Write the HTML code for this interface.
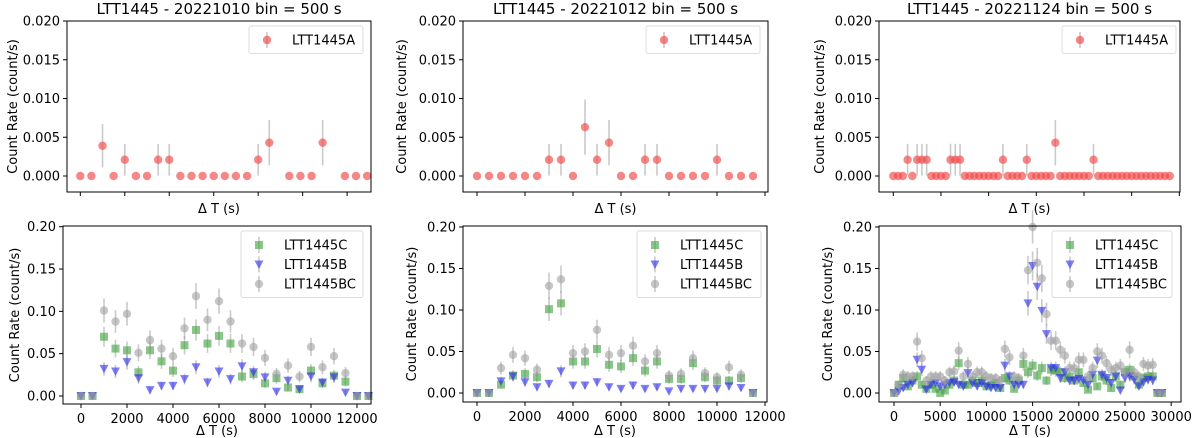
<!DOCTYPE html>
<html><head><meta charset="utf-8">
<style>
html,body{margin:0;padding:0;background:#fff;}
svg{display:block;font-family:"DejaVu Sans","Liberation Sans",sans-serif;}
</style></head>
<body>
<svg id="fig" width="1200" height="438" viewBox="0 0 1200 438" xmlns="http://www.w3.org/2000/svg"></svg>
<script>
// ---------- data ----------
const a1X = [0,500,1000,1500,2000,2500,3000,3500,4000,4500,5000,5500,6000,6500,7000,7500,8000,8500,9400,9900,10400,10900,11900,12400,12900];
const a1Y = [0,0,0.0039,0,0.0021,0,0,0.0021,0.0021,0,0,0,0,0,0,0,0.0021,0.0043,0,0,0,0.0043,0,0,0];
const a2Y = [0,0,0,0,0,0,0.0021,0.0021,0,0.0063,0.0021,0.0043,0,0,0.0021,0.0021,0,0,0,0,0.0021,0,0,0];
const a3Y = [0,0,0,0.0021,0,0.0021,0.0021,0.0021,0,0,0,0,0.0021,0.0021,0.0021,0,0,0,0,0,0,0,0,0.0021,0,0,0,0,0.0021,0,0,0,0,0,0.0043,0,0,0,0,0,0,0,0.0021,0,0,0,0,0,0,0,0,0,0,0,0,0,0,0,0];

const b1C = [0,0,0.070,0.056,0.054,0.028,0.054,0.041,0.030,0.060,0.078,0.062,0.071,0.062,0.023,0.026,0.015,0.021,0.010,0.008,0.030,0.015,0.024,0.017,0,0];
const b1B = [0,0,0.032,0.029,0.040,0.021,0.007,0.012,0.012,0.020,0.034,0.016,0.029,0.020,0.035,0.028,0.022,0.005,0.018,0.008,0.023,0.016,0.022,0.004,0,0];
const b1BC = [0,0,0.101,0.088,0.097,0.051,0.066,0.056,0.047,0.080,0.118,0.090,0.112,0.088,0.062,0.058,0.045,0.026,0.036,0.023,0.058,0.034,0.047,0.027,0,0];

const b2C = [0,0,0.010,0.021,0.023,0.019,0.101,0.108,0.038,0.038,0.053,0.034,0.032,0.042,0.027,0.038,0.017,0.017,0.036,0.019,0.015,0.015,0.018,0];
const b2B = [0,0,0.014,0.020,0.013,0.007,0.011,0.026,0.009,0.009,0.013,0.007,0.005,0.009,0.005,0.007,0.002,0.005,0.005,0.005,0.005,0.008,0.006,0];
const b2BC = [0,0,0.030,0.046,0.042,0.028,0.129,0.137,0.048,0.050,0.076,0.046,0.048,0.057,0.038,0.048,0.021,0.023,0.042,0.024,0.019,0.031,0.022,0];

const b3C = [0,0.010,0.018,0.008,0.015,0.020,0.010,0.005,0.010,0.005,0.000,0.003,0.010,0.015,0.036,0.010,0.010,0.015,0.012,0.015,0.008,0.010,0.012,0.006,0.018,0.015,0.005,0.015,0.035,0.025,0.033,0.021,0.030,0.015,0.028,0.027,0.025,0.018,0.020,0.015,0.025,0.012,0.004,0.018,0.008,0.020,0.015,0.006,0.020,0.010,0.025,0.028,0.020,0.010,0.018,0.020,0.020,0,0];
const b3B = [0,0.002,0.006,0.010,0.012,0.040,0.028,0.004,0.010,0.012,0.008,0.010,0.012,0.013,0.010,0.008,0.024,0.012,0.008,0.012,0.008,0.006,0.006,0.006,0.033,0.020,0.010,0.010,0.010,0.108,0.153,0.128,0.099,0.071,0.030,0.030,0.018,0.025,0.015,0.015,0.017,0.015,0.010,0.022,0.039,0.022,0.018,0.012,0.020,0.003,0.018,0.020,0.016,0.008,0.013,0.016,0.015,0,0];
const b3BC = [0,0.010,0.022,0.020,0.020,0.062,0.042,0.015,0.020,0.020,0.020,0.015,0.025,0.026,0.051,0.020,0.035,0.020,0.025,0.025,0.020,0.018,0.018,0.015,0.053,0.043,0.020,0.018,0.045,0.148,0.200,0.157,0.138,0.095,0.063,0.063,0.052,0.045,0.030,0.030,0.040,0.040,0.020,0.030,0.050,0.045,0.036,0.028,0.030,0.033,0.025,0.052,0.025,0.020,0.035,0.033,0.034,0,0];

const titles = ["LTT1445 - 20221010 bin = 500 s","LTT1445 - 20221012 bin = 500 s","LTT1445 - 20221124 bin = 500 s"];
const topTicks = ["0.000","0.005","0.010","0.015","0.020"];
const topTickVals = [0,0.005,0.010,0.015,0.020];
const botTicks = ["0.00","0.05","0.10","0.15","0.20"];
const botTickVals = [0,0.05,0.10,0.15,0.20];
const xTicks12 = [0,2000,4000,6000,8000,10000,12000];
const xTicks30 = [0,5000,10000,15000,20000,25000,30000];

// ---------- helpers ----------
const NS="http://www.w3.org/2000/svg";
const svg=document.getElementById('fig');
function mk(tag,attrs,parent){const e=document.createElementNS(NS,tag);for(const k in attrs)e.setAttribute(k,attrs[k]);(parent||svg).appendChild(e);return e;}
function seq(n){const r=[];for(let i=0;i<n;i++)r.push(i*500);return r;}
const RED="rgba(242,70,70,0.65)",GREEN="rgba(60,160,60,0.6)",BLUE="rgba(40,40,240,0.6)",GREY="rgba(160,160,160,0.6)",ERR="rgba(150,150,150,0.5)";

function panel(cfg){
  const g=mk('g',{});
  
  
  const sx=v=>cfg.x0+v*cfg.xs, sy=v=>cfg.y0-v*cfg.ys;
  mk('rect',{x:cfg.L,y:cfg.T,width:cfg.R-cfg.L,height:cfg.B-cfg.T,fill:'#fff'},g);
  // series
  cfg.series.forEach(s=>{
    const sg=mk('g',{},g);
    
    
    s.y.forEach((v,i)=>{
      const px=sx(s.x[i]),py=sy(v);
      const e=Math.sqrt(v/500);
      if(v>0){const l=mk('line',{x1:px,x2:px,y1:sy(v+e),y2:sy(Math.max(0,v-e)),stroke:ERR,'stroke-width':1.6},sg);
        }
      let m;
      if(s.shape==='c') m=mk('circle',{cx:px,cy:py,r:4.2,fill:s.color},sg);
      else if(s.shape==='s') m=mk('rect',{x:px-4,y:py-4,width:8,height:8,fill:s.color},sg);
      else m=mk('path',{d:`M${px-4.5},${py-4} L${px+4.5},${py-4} L${px},${py+4.5} Z`,fill:s.color},sg);
      
      
    });
  });
  // frame
  mk('rect',{x:cfg.L,y:cfg.T,width:cfg.R-cfg.L,height:cfg.B-cfg.T,fill:'none',stroke:'#000','stroke-width':1},g);
  // y ticks
  cfg.yVals.forEach((v,i)=>{
    const y=sy(v);
    mk('line',{x1:cfg.L-4,x2:cfg.L,y1:y,y2:y,stroke:'#000','stroke-width':1},g);
    const t=mk('text',{x:cfg.L-7,y:y+4.5,'text-anchor':'end','font-size':13},g);t.textContent=cfg.yLabels[i];
    
  });
  // x ticks
  cfg.xVals.forEach(v=>{
    const x=sx(v);
    mk('line',{x1:x,x2:x,y1:cfg.B,y2:cfg.B+4,stroke:'#000','stroke-width':1},g);
    if(cfg.showX){const t=mk('text',{x:x,y:cfg.B+19,'text-anchor':'middle','font-size':13},g);t.textContent=String(v);
      }
  });
  const xl=mk('text',{x:(cfg.L+cfg.R)/2,y:cfg.xlY,'text-anchor':'middle','font-size':13},g);xl.textContent='Δ T (s)';
  
  const yl=mk('text',{x:0,y:0,'text-anchor':'middle','font-size':13,transform:`translate(${cfg.ylX},${(cfg.T+cfg.B)/2}) rotate(-90)`},g);yl.textContent='Count Rate (count/s)';
  
  if(cfg.title){const t=mk('text',{x:(cfg.L+cfg.R)/2,y:14,'text-anchor':'middle','font-size':15},g);t.textContent=cfg.title;
    }
  // legend
  const lg=mk('g',{},g);
  
  
  const n=cfg.series.length;
  mk('rect',{x:cfg.legX,y:cfg.T+5,width:cfg.legW,height:n*19.5+8,fill:'#fff',stroke:'#ddd','stroke-width':1,rx:2},lg);
  cfg.series.forEach((s,i)=>{
    const cy=cfg.T+5+14+i*19.5, mx=cfg.legX+18;
    mk('line',{x1:mx,x2:mx,y1:cy-8,y2:cy+8,stroke:ERR,'stroke-width':1.6},lg);
    if(s.shape==='c') mk('circle',{cx:mx,cy:cy,r:4.2,fill:s.color},lg);
    else if(s.shape==='s') mk('rect',{x:mx-4,y:cy-4,width:8,height:8,fill:s.color},lg);
    else mk('path',{d:`M${mx-4.5},${cy-4} L${mx+4.5},${cy-4} L${mx},${cy+4.5} Z`,fill:s.color},lg);
    const t=mk('text',{x:mx+25,y:cy+4.5,'font-size':13},lg);t.textContent=s.label;
    
  });
}

const topYs=155/0.02;
panel({name:'panel-top-20221010',L:67,R:371,T:21,B:192,x0:80.3,xs:44.47/2000,y0:176,ys:topYs,yVals:topTickVals,yLabels:topTicks,xVals:xTicks12,showX:false,xlY:213,ylX:17,title:titles[0],legX:249,legW:114,
  series:[{name:'series-ltt1445a',label:'LTT1445A',x:a1X,y:a1Y,shape:'c',color:RED}]});
panel({name:'panel-top-20221012',L:463,R:768,T:21,B:192,x0:477,xs:48/2000,y0:176,ys:topYs,yVals:topTickVals,yLabels:topTicks,xVals:xTicks12,showX:false,xlY:213,ylX:406,title:titles[1],legX:646,legW:114,
  series:[{name:'series-ltt1445a',label:'LTT1445A',x:seq(a2Y.length),y:a2Y,shape:'c',color:RED}]});
panel({name:'panel-top-20221124',L:879,R:1180,T:21,B:192,x0:893.3,xs:47.67/5000,y0:176,ys:topYs,yVals:topTickVals,yLabels:topTicks,xVals:xTicks30,showX:false,xlY:213,ylX:824,title:titles[2],legX:1062,legW:114,
  series:[{name:'series-ltt1445a',label:'LTT1445A',x:seq(a3Y.length),y:a3Y,shape:'c',color:RED}]});

panel({name:'panel-bottom-20221010',L:63,R:371,T:226,B:404,x0:81,xs:46/2000,y0:396,ys:169.3/0.2,yVals:botTickVals,yLabels:botTicks,xVals:xTicks12,showX:true,xlY:435,ylX:19,legX:241,legW:122,
  series:[{name:'series-ltt1445c',label:'LTT1445C',x:seq(b1C.length),y:b1C,shape:'s',color:GREEN},
          {name:'series-ltt1445b',label:'LTT1445B',x:seq(b1B.length),y:b1B,shape:'t',color:BLUE},
          {name:'series-ltt1445bc',label:'LTT1445BC',x:seq(b1BC.length),y:b1BC,shape:'c',color:GREY}]});
panel({name:'panel-bottom-20221012',L:463,R:767,T:226,B:402,x0:477,xs:48/2000,y0:393,ys:166/0.2,yVals:botTickVals,yLabels:botTicks,xVals:xTicks12,showX:true,xlY:435,ylX:416,legX:637,legW:124,
  series:[{name:'series-ltt1445c',label:'LTT1445C',x:seq(b2C.length),y:b2C,shape:'s',color:GREEN},
          {name:'series-ltt1445b',label:'LTT1445B',x:seq(b2B.length),y:b2B,shape:'t',color:BLUE},
          {name:'series-ltt1445bc',label:'LTT1445BC',x:seq(b2BC.length),y:b2BC,shape:'c',color:GREY}]});
panel({name:'panel-bottom-20221124',L:879,R:1181,T:226,B:402,x0:894,xs:46.2/5000,y0:393,ys:166/0.2,yVals:botTickVals,yLabels:botTicks,xVals:xTicks30,showX:true,xlY:435,ylX:832,legX:1052,legW:120,
  series:[{name:'series-ltt1445c',label:'LTT1445C',x:seq(b3C.length),y:b3C,shape:'s',color:GREEN},
          {name:'series-ltt1445b',label:'LTT1445B',x:seq(b3B.length),y:b3B,shape:'t',color:BLUE},
          {name:'series-ltt1445bc',label:'LTT1445BC',x:seq(b3BC.length),y:b3BC,shape:'c',color:GREY}]});
</script>
</body></html>
